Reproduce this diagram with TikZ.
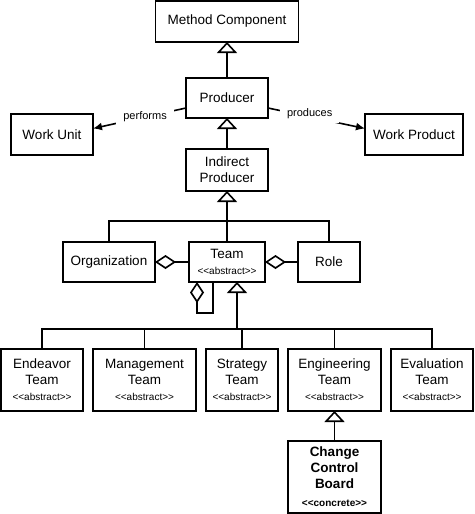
\documentclass[tikz,border=0pt]{standalone}
\usepackage{fontspec}
\setmainfont{Liberation Sans}[Ligatures=TeXOff]
\usetikzlibrary{arrows.meta}
\newcommand*\boxline{1.6pt}
\newcommand*\stereo[1]{{\fontsize{10}{12}\selectfont <<#1>>}}
\tikzset{
    box/.style      = {draw, rectangle, line width=\boxline,
                      align=center, inner sep=0pt, outer sep=0pt,
                      font=\fontsize{13.5}{16}\selectfont},
    teambox/.style  = {box, minimum height=62pt},
    link/.style     = {line width=\boxline},
    gen/.style      = {link, -{Triangle[open, length=11pt, width=20pt]}},
    aggr/.style     = {link, {Diamond[open, length=21pt, width=14pt]}-},
    assoc/.style    = {link, -{Latex[length=9pt, width=8pt]}},
    asslabel/.style = {fill=white, inner xsep=7pt, inner ysep=4pt,
                      font=\fontsize{11}{13}\selectfont},
  }

\begin{document}
\begin{tikzpicture}[x=1pt, y=-1pt]
        \useasboundingbox (0,0) rectangle (474,514);

        % Top of the hierarchy
        \node[box, minimum width=143pt, minimum height=41pt] (Method)   at (227,21.5) {Method Component};
        \node[box, minimum width=82pt,  minimum height=40pt] (Producer) at (227,98)   {Producer};
        \node[box, minimum width=82pt,  minimum height=41pt] (WorkUnit) at (52,134.5) {Work Unit};
        \node[box, minimum width=98pt,  minimum height=41pt] (WorkProduct) at (414,134.5) {Work Product};
        \node[box, minimum width=82pt,  minimum height=42pt] (Indirect) at (227,170)  {Indirect\\Producer};

        % Middle row
        \node[box, minimum width=92pt, minimum height=40pt] (Organization) at (109,262) {Organization};
        \node[box, minimum width=76pt, minimum height=40pt] (Team)         at (227,262) {Team\\\stereo{abstract}};
        \node[box, minimum width=62pt, minimum height=40pt] (Role)         at (329,262) {Role};

        % Kinds of team
        \node[teambox, minimum width=82pt]  (Endeavor)    at (42,380)    {Endeavor\\Team\\\stereo{abstract}};
        \node[teambox, minimum width=103pt] (Management)  at (144.5,380) {Management\\Team\\\stereo{abstract}};
        \node[teambox, minimum width=72pt]  (Strategy)    at (242,380)   {Strategy\\Team\\\stereo{abstract}};
        \node[teambox, minimum width=93pt]  (Engineering) at (334.5,380) {Engineering\\Team\\\stereo{abstract}};
        \node[teambox, minimum width=82pt]  (Evaluation)  at (432,380)   {Evaluation\\Team\\\stereo{abstract}};
        \node[box, minimum width=93pt, minimum height=72pt, font=\fontsize{13.5}{16}\selectfont\bfseries]
            (CCB) at (334.5,477) {Change\\Control\\Board\\[2pt]\stereo{concrete}};

        % Bus points
        \coordinate (upbus)  at (227,221);
        \coordinate (lowbus) at (237,329);

        % Generalizations
        \draw[gen] (Producer) -- (Method);
        \draw[gen] (Indirect) -- (Producer);
        \draw[gen] (upbus) -- (Indirect);
        \foreach \n in {Organization,Team,Role} {
            \draw[link] (\n.north) |- (upbus);
        }
        \draw[gen] (lowbus) -- (lowbus |- Team.south);
        \foreach \n in {Endeavor,Management,Strategy,Engineering,Evaluation} {
            \draw[link] (\n.north) |- (lowbus);
        }
        \draw[gen] (CCB) -- (Engineering);

        % Aggregations
        \draw[aggr] (Organization.east) -- (Team.west);
        \draw[aggr] (Team.east) -- (Role.west);
        \draw[aggr] ([xshift=8pt]Team.south west) -- ++(0,31) -| ([xshift=24pt]Team.south west);

        % Associations
        \draw[assoc] ([yshift=10pt]Producer.south west) -- node[asslabel, pos=.44] {performs} ([yshift=6pt]WorkUnit.east);
        \draw[assoc] ([yshift=10pt]Producer.south east) -- node[asslabel, pos=.43, yshift=3pt] {produces} ([yshift=6pt]WorkProduct.west);
    \end{tikzpicture}
\end{document}
